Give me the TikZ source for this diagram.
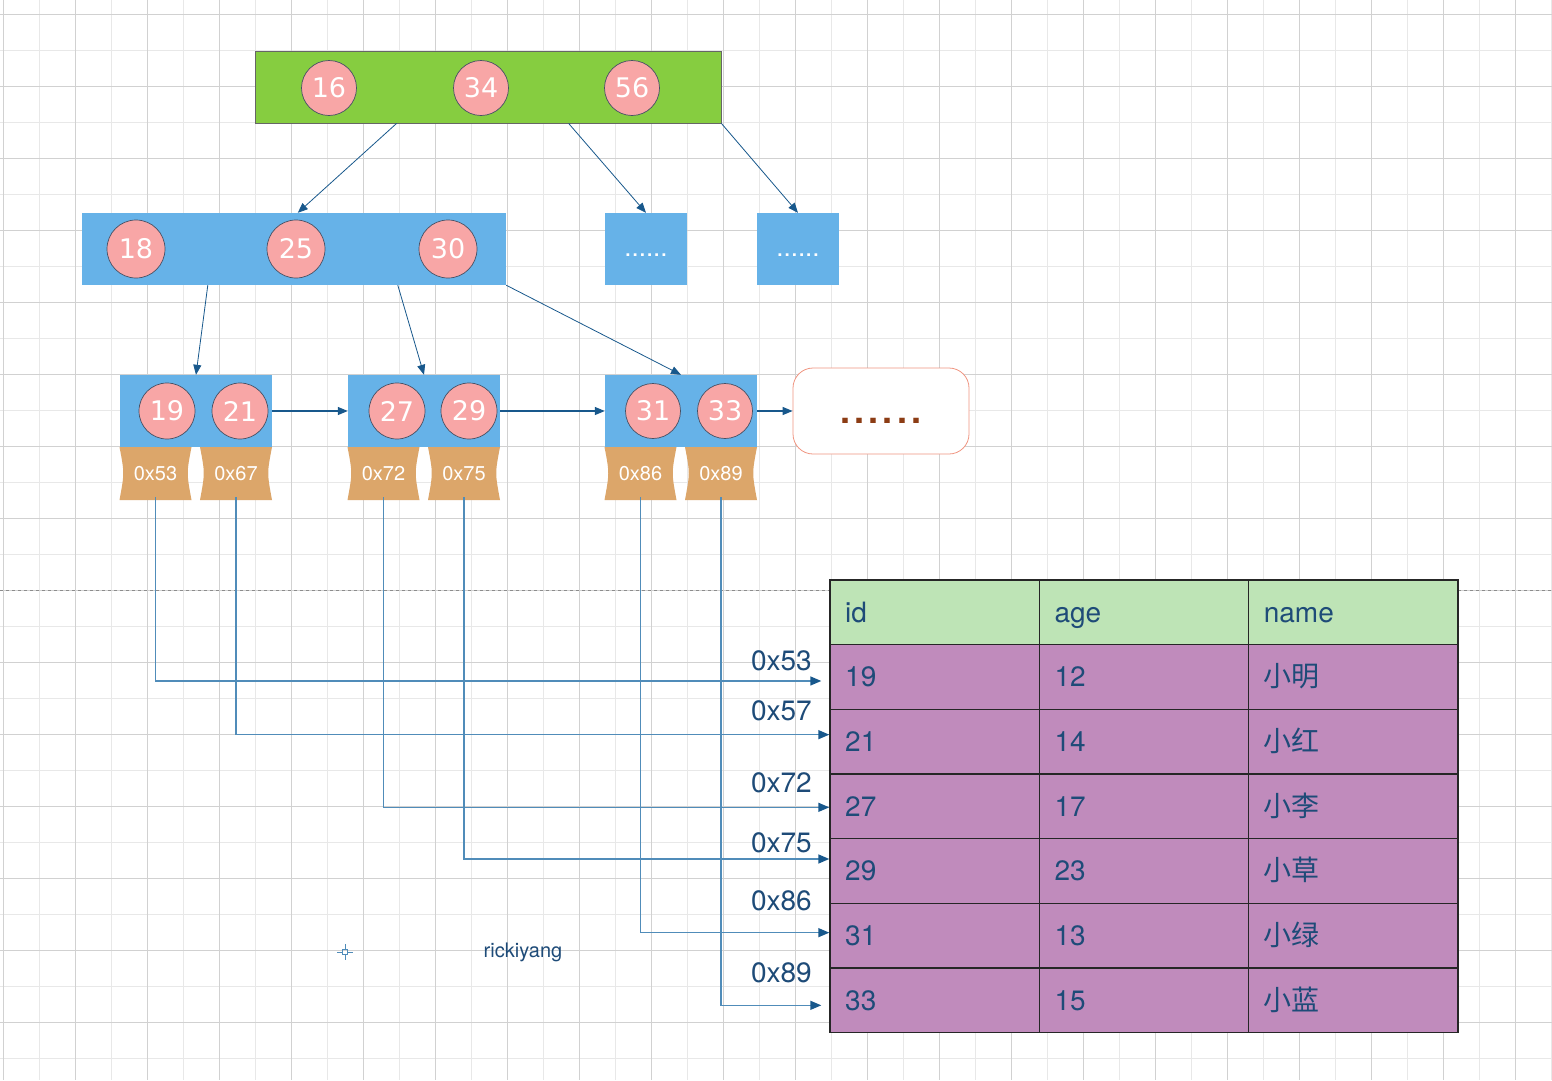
\documentclass[tikz,border=0pt]{standalone}
\usepackage{fontspec}
\setmainfont{TeX Gyre Heros}
\newfontfamily\keyfont{DejaVu Sans}
\newfontfamily\cjk{Noto Sans CJK SC}
\usetikzlibrary{shapes,arrows.meta}

\definecolor{rootgreen}{RGB}{134,205,64}
\definecolor{nodeblue}{RGB}{102,178,232}
\definecolor{keypink}{RGB}{248,166,166}
\definecolor{keyline}{RGB}{70,80,100}
\definecolor{tan}{RGB}{220,166,106}
\definecolor{linkblue}{RGB}{24,88,140}
\definecolor{ptrblue}{RGB}{80,140,185}
\definecolor{txtblue}{RGB}{30,75,120}
\definecolor{headgreen}{RGB}{190,228,182}
\definecolor{rowpurple}{RGB}{192,139,188}
\definecolor{moreline}{RGB}{240,150,130}
\definecolor{moredots}{RGB}{140,60,20}

\begin{document}
\begin{tikzpicture}[x=1pt,y=-1pt]
    \tikzstyle{gridmin}=[draw=black!9,line width=0.8pt]
    \tikzstyle{gridmaj}=[draw=black!18,line width=0.8pt]
    \tikzstyle{rootbox}=[rectangle,fill=rootgreen,draw=black!60,line width=0.8pt,minimum width=466pt,minimum height=72pt]
    \tikzstyle{bluebox}=[rectangle,fill=nodeblue,minimum height=72pt,inner sep=0pt]
    \tikzstyle{dotbox}=[bluebox,minimum width=82pt,text=white,text height=14pt,text depth=0pt,font=\fontsize{26}{26}\selectfont]
    \tikzstyle{key}=[circle,fill=keypink,draw=keyline,line width=0.7pt,text=white,inner sep=0pt,font=\keyfont\fontsize{27}{27}\selectfont]
    \tikzstyle{addr}=[text=white,font=\fontsize{20}{20}\selectfont]
    \tikzstyle{link}=[draw=linkblue,line width=0.8pt,-{Triangle[length=10pt,width=8pt]}]
    \tikzstyle{ptr}=[draw=ptrblue,line width=1.4pt,-{Triangle[length=11pt,width=9pt,color=linkblue]}]
    \tikzstyle{lbl}=[anchor=east,text=txtblue,inner sep=0pt,font=\fontsize{28}{28}\selectfont]
    \tikzstyle{cell}=[rectangle,draw=black!85,line width=1.5pt,fill=rowpurple,minimum width=209.3pt,minimum height=64.67pt,text width=179pt,inner xsep=15pt,
      text height=22pt,text depth=2pt,align=left,text=txtblue,font=\fontsize{28}{30}\selectfont]
    \tikzstyle{head}=[cell,fill=headgreen]

    % background and grid
    \fill[white] (0,0) rectangle (1552,1080);
    \useasboundingbox (0,0) rectangle (1552,1080);
    \foreach \x in {3,39,...,1552} \draw[gridmin] (\x,0) -- (\x,1080);
    \foreach \y in {14,50,...,1080} \draw[gridmin] (0,\y) -- (1552,\y);
    \foreach \x in {3,75,...,1552} \draw[gridmaj] (\x,0) -- (\x,1080);
    \foreach \y in {14,86,...,1080} \draw[gridmaj] (0,\y) -- (1552,\y);
    \draw[black!45,dashed,line width=0.8pt] (0,590) -- (1552,590);

    % root
    \node[rootbox] (root) at (488,87) {};
    \node[key,minimum size=55pt] (k16) at (329,88) {16};
    \node[key,minimum size=55pt] (k34) at (481,88) {34};
    \node[key,minimum size=55pt] (k56) at (632,88) {56};

    % second level
    \node[bluebox,minimum width=424pt] (mid) at (294,249) {};
    \node[key,minimum size=58pt] (k18) at (136,249) {18};
    \node[key,minimum size=58pt] (k25) at (296,249) {25};
    \node[key,minimum size=58pt] (k30) at (448,249) {30};
    \node[dotbox] (dotsa) at (646,249) {......};
    \node[dotbox] (dotsb) at (798,249) {......};

    % leaves
    \node[bluebox,minimum width=152pt] (leafa) at (196,411) {};
    \node[bluebox,minimum width=152pt] (leafb) at (424,411) {};
    \node[bluebox,minimum width=152pt] (leafc) at (681,411) {};
    \node[key,minimum size=56pt] (k19) at (167,411) {19};
    \node[key,minimum size=56pt] (k21) at (240,411) {21};
    \node[key,minimum size=56pt] (k27) at (397,411) {27};
    \node[key,minimum size=56pt] (k29) at (469,411) {29};
    \node[key,minimum size=55pt] (k31) at (653,411) {31};
    \node[key,minimum size=55pt] (k33) at (725,411) {33};
    \node[rectangle,rounded corners=20pt,draw=moreline,fill=white,line width=0.8pt,minimum width=176pt,minimum height=86pt,
      text=moredots,text height=24pt,text depth=0pt,font=\bfseries\fontsize{36}{36}\selectfont] (more) at (881,411)
      {.\kern4pt.\kern4pt.\kern4pt.\kern4pt.\kern4pt.};

    % addresses
    \foreach \x/\t [count=\i] in {155.5/0x53,236/0x67,383.5/0x72,464/0x75,640.5/0x86,721/0x89} {
      \fill[tan] (\x-36,447) -- (\x+36,447) .. controls (\x+31,473) .. (\x+36,500)
        -- (\x-36,500) .. controls (\x-31,473) .. (\x-36,447);
      \node[addr] (ad\i) at (\x,473.5) {\t};
    }

    % tree links
    \draw[link] ([xshift=142pt]root.south west) -- ([xshift=216pt]mid.north west);
    \draw[link] ([xshift=314pt]root.south west) -- (dotsa.north);
    \draw[link] (root.south east) -- (dotsb.north);
    \draw[link] ([xshift=126pt]mid.south west) -- (leafa.north);
    \draw[link] ([xshift=316pt]mid.south west) -- (leafb.north);
    \draw[link] (mid.south east) -- (leafc.north);
    \draw[link,line width=1.2pt] (leafa) -- (leafb);
    \draw[link,line width=1.2pt] (leafb) -- (leafc);
    \draw[link,line width=1.2pt] (leafc) -- (more);

    % table
    \node[head] (hid) at (934.7,612.3) {id};
    \node[head] (hage) at (1144,612.3) {age};
    \node[head] (hname) at (1353.3,612.3) {name};
    \foreach \a/\b/\c [count=\i] in {19/12/小明,21/14/小红,27/17/小李,29/23/小草,31/13/小绿,33/15/小蓝} {
      \node[cell] (c\i) at (934.7,612.3+64.67*\i) {\a};
      \node[cell] (d\i) at (1144,612.3+64.67*\i) {\b};
      \node[cell] (e\i) at (1353.3,612.3+64.67*\i) {\cjk \c};
    }

    % pointers
    \draw[ptr] (ad1.south) ++(0,13) |- ([xshift=-8pt,yshift=-4pt]c1.west);
    \draw[ptr] (ad2.south) ++(0,13) |- ([yshift=7pt]c2.west);
    \draw[ptr] (ad3.south) ++(0,13) |- ([yshift=-1pt]c3.west);
    \draw[ptr] (ad4.south) ++(0,13) |- ([yshift=12pt]c4.west);
    \draw[ptr] (ad5.south) ++(0,13) |- ([yshift=3pt]c5.west);
    \draw[ptr] (ad6.south) ++(0,13) |- ([xshift=-8pt,yshift=-5pt]c6.west);
    \node[lbl] (la) at (812,661) {0x53};
    \node[lbl] (lb) at (812,711) {0x57};
    \node[lbl] (lc) at (812,783) {0x72};
    \node[lbl] (ld) at (812,843) {0x75};
    \node[lbl] (le) at (812,901) {0x86};
    \node[lbl] (lf) at (812,973) {0x89};

    % signature
    \draw[ptrblue,line width=0.8pt] (342.5,949.5) rectangle (347.5,954.5)
      (337,952) -- (342.5,952) (347.5,952) -- (353,952) (345,944) -- (345,949.5) (345,954.5) -- (345,960);
    \node[text=txtblue,font=\fontsize{20}{20}\selectfont] (sig) at (523,952) {rickiyang};
\end{tikzpicture}
\end{document}
